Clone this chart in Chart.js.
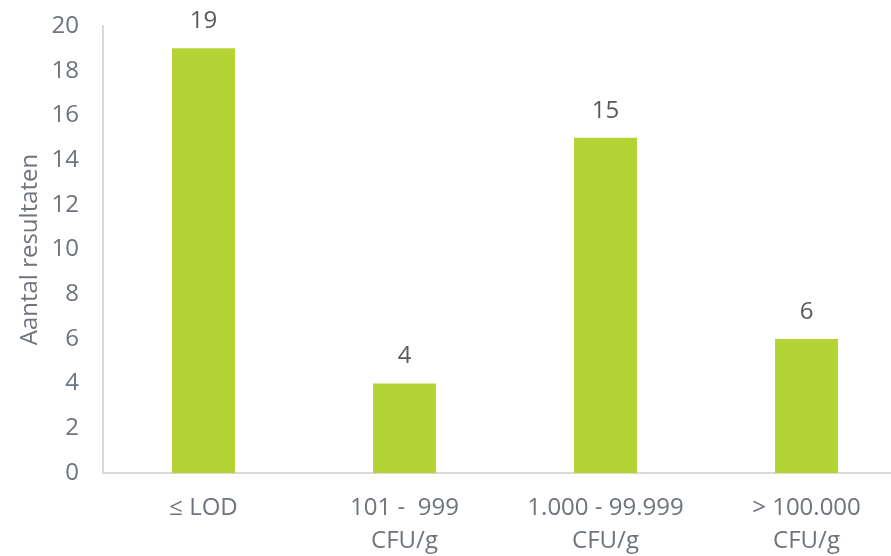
<!DOCTYPE html>
<html>
<head>
<meta charset="utf-8">
<script src="https://cdn.jsdelivr.net/npm/chart.js@4.4.0/dist/chart.umd.min.js"></script>
<style>
  html, body { margin: 0; padding: 0; background: #fff; overflow: hidden; }
  #wrap { width: 891px; height: 556px; overflow: hidden; }
</style>
</head>
<body>
<!-- canvas a bit wider than the window: the plot runs off the right edge like the original -->
<div id="wrap"><canvas id="bacChart" width="907" height="556"></canvas></div>
<script>
// categories and counts
const categories = [["\u2264 LOD"], ["101 -  999", "CFU/g"], ["1.000 - 99.999", "CFU/g"], ["> 100.000", "CFU/g"]];
const counts = [19, 4, 15, 6];
const yTicks = [0, 2, 4, 6, 8, 10, 12, 14, 16, 18, 20];

const textGray = "#6e747c";
const fontFam = "'Open Sans', sans-serif";

// draws the value above each bar
const valueLabels = {
  id: "valueLabels",
  afterDatasetsDraw(chart) {
    const ctx = chart.ctx;
    const meta = chart.getDatasetMeta(0);
    ctx.save();
    ctx.font = "24px " + fontFam;
    ctx.fillStyle = "#595959";
    ctx.textAlign = "center";
    ctx.textBaseline = "bottom";
    meta.data.forEach((bar, i) => {
      ctx.fillText(counts[i], bar.x, bar.y - 15);
    });
    ctx.restore();
  }
};

const myChart = new Chart("bacChart", {
  type: "bar",
  data: {
    labels: categories,
    datasets: [{
      data: counts,
      backgroundColor: "#b4d334",
      categoryPercentage: 1.0,
      barPercentage: 0.313
    }]
  },
  options: {
    responsive: false,
    animation: false,
    layout: { padding: { top: 26, right: 0 } },
    plugins: {
      legend: { display: false },
      tooltip: { enabled: false }
    },
    scales: {
      x: {
        grid: { display: false, drawTicks: false },
        border: { color: "#d9d9d9", width: 2 },
        ticks: {
          color: textGray,
          font: { family: fontFam, size: 24, lineHeight: 1.4 },
          padding: 18,
          maxRotation: 0
        },
        afterFit(scale) { scale.height = 83; }
      },
      y: {
        min: 0,
        max: 20,
        afterBuildTicks(scale) { scale.ticks = yTicks.map(v => ({ value: v })); },
        grid: { display: false, drawTicks: false },
        border: { color: "#d9d9d9", width: 2 },
        ticks: {
          color: textGray,
          font: { family: fontFam, size: 24 },
          padding: 24
        },
        title: {
          display: true,
          text: "Aantal resultaten",
          color: textGray,
          font: { family: fontFam, size: 24 },
          padding: { top: 16, bottom: 0 }
        },
        afterFit(scale) {
          scale.width = 103;
          scale.paddingTop = 0;
          scale.paddingBottom = 0;
        }
      }
    }
  },
  plugins: [valueLabels]
});
</script>
</body>
</html>
